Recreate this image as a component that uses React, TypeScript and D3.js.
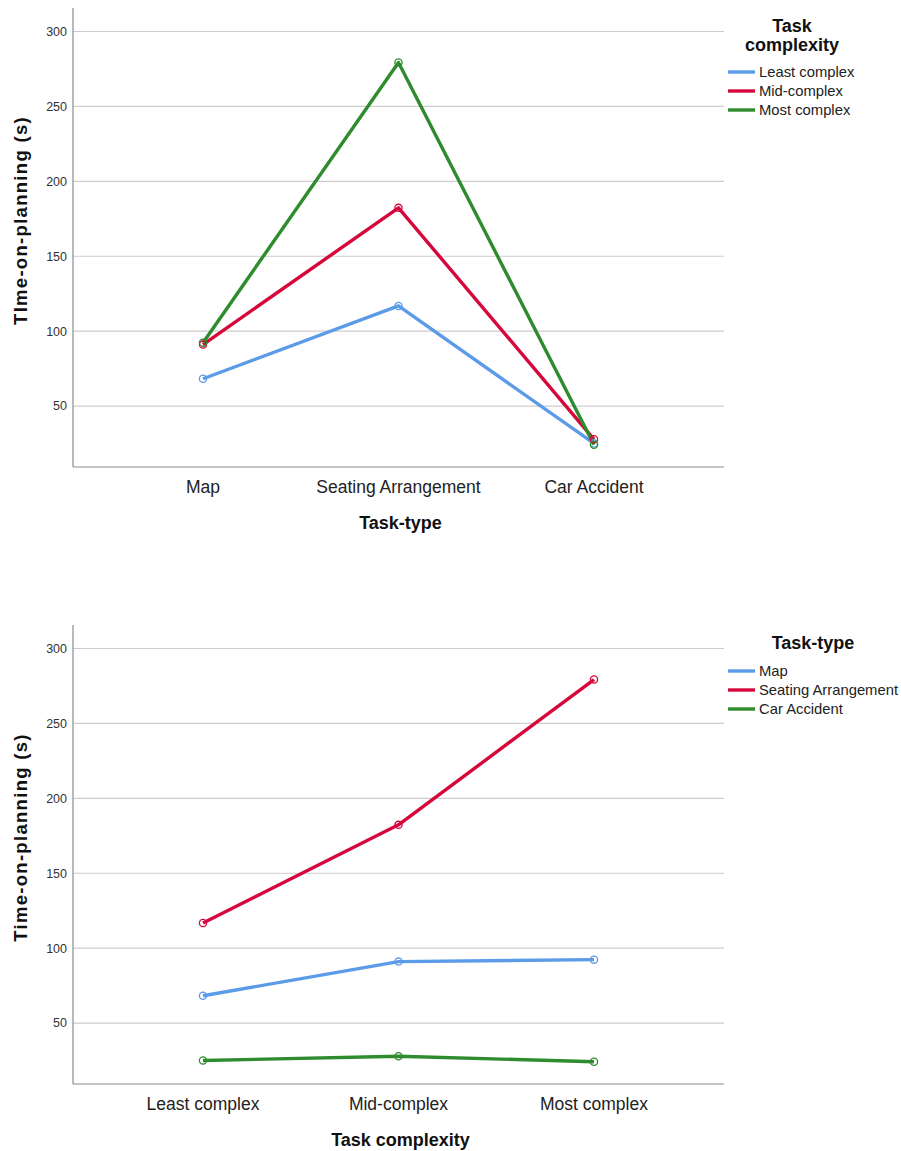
import React from 'react';
import * as d3 from 'd3';

// values
const taskTypes = ['Map', 'Seating Arrangement', 'Car Accident'];
const complexities = ['Least complex', 'Mid-complex', 'Most complex'];
const leastComplex = [68.2, 116.8, 25.0];
const midComplex = [91.0, 182.3, 27.8];
const mostComplex = [92.3, 279.3, 24.2];
const yTicks = [50, 100, 150, 200, 250, 300];

const colors = ['#5b9be8', '#d6083b', '#2e8b2e'];
const font = 'Arial, "Liberation Sans", sans-serif';

type Series = {name: string, values: number[]};

function Panel(props: {
  top: number,
  cats: string[],
  series: Series[],
  xTitle: string,
  yTitle: string,
  legendTitle: string[],
}) {
  const {top, cats, series, xTitle, yTitle, legendTitle} = props;
  const left = 73, right = 724;
  const plotTop = top, plotBottom = top + 459;

  const x = d3.scalePoint<string>().domain(cats).range([left, right]).padding(0.665);
  const y = d3.scaleLinear().domain([9.3, 315.7]).range([plotBottom, plotTop]);
  const line = d3.line<number>()
    .x((_, i) => x(cats[i]) as number)
    .y(d => y(d));

  const legTop = legendTitle.length > 1 ? top + 64 : top + 46;

  return (
    <g>
      {yTicks.map(t => (
        <g key={t}>
          <line x1={left} x2={right} y1={y(t)} y2={y(t)} stroke="#cdcdcd" strokeWidth={1.2} />
          <text x={left - 6} y={y(t)} dy="0.35em" textAnchor="end" fontSize={12.5} fill="#333">{t}</text>
        </g>
      ))}
      <line x1={left} x2={left} y1={plotTop} y2={plotBottom} stroke="#8a8a8a" strokeWidth={1.2} />
      <line x1={left} x2={right} y1={plotBottom} y2={plotBottom} stroke="#8a8a8a" strokeWidth={1.2} />

      {cats.map(c => (
        <text key={c} x={x(c)} y={plotBottom + 26} textAnchor="middle" fontSize={17.5} fill="#222">{c}</text>
      ))}
      <text x={(left + right) / 2 + 2} y={plotBottom + 62} textAnchor="middle" fontSize={18} fontWeight="bold" fill="#111">{xTitle}</text>
      <text transform={`translate(27,${(plotTop + plotBottom) / 2 - 17}) rotate(-90)`} textAnchor="middle"
        fontSize={18.5} letterSpacing={1.3} fontWeight="bold" fill="#111">{yTitle}</text>

      {series.map((s, i) => (
        <path key={s.name} d={line(s.values) || ''} fill="none" stroke={colors[i]} strokeWidth={3.4} strokeLinejoin="round" />
      ))}
      {series.map((s, i) => s.values.map((v, j) => (
        <circle key={s.name + j} cx={x(cats[j])} cy={y(v)} r={3.6} fill="none" stroke={colors[i]} strokeWidth={1.3} />
      )))}

      {legendTitle.map((t, i) => (
        <text key={t} x={legendTitle.length > 1 ? 792 : 813} y={top + 24 + i * 19} textAnchor="middle" fontSize={18} fontWeight="bold" fill="#111">{t}</text>
      ))}
      {series.map((s, i) => (
        <g key={s.name} transform={`translate(728,${legTop + i * 19})`}>
          <line x1={0} x2={27} y1={0} y2={0} stroke={colors[i]} strokeWidth={3.4} />
          <text x={31} y={0} dy="0.35em" fontSize={14.8} fill="#222">{s.name}</text>
        </g>
      ))}
    </g>
  );
}

export default function App() {
  const byComplexity: Series[] = [
    {name: complexities[0], values: leastComplex},
    {name: complexities[1], values: midComplex},
    {name: complexities[2], values: mostComplex},
  ];
  const byTask: Series[] = taskTypes.map((t, i) => ({
    name: t,
    values: [leastComplex[i], midComplex[i], mostComplex[i]],
  }));

  return (
    <svg width={901} height={1151} style={{position: 'absolute', left: 0, top: 0, background: '#fff'}} fontFamily={font}>
      <Panel top={8} cats={taskTypes} series={byComplexity} xTitle="Task-type"
        yTitle="TIme-on-planning (s)" legendTitle={['Task', 'complexity']} />
      <Panel top={625} cats={complexities} series={byTask} xTitle="Task complexity"
        yTitle="Time-on-planning (s)" legendTitle={['Task-type']} />
    </svg>
  );
}
